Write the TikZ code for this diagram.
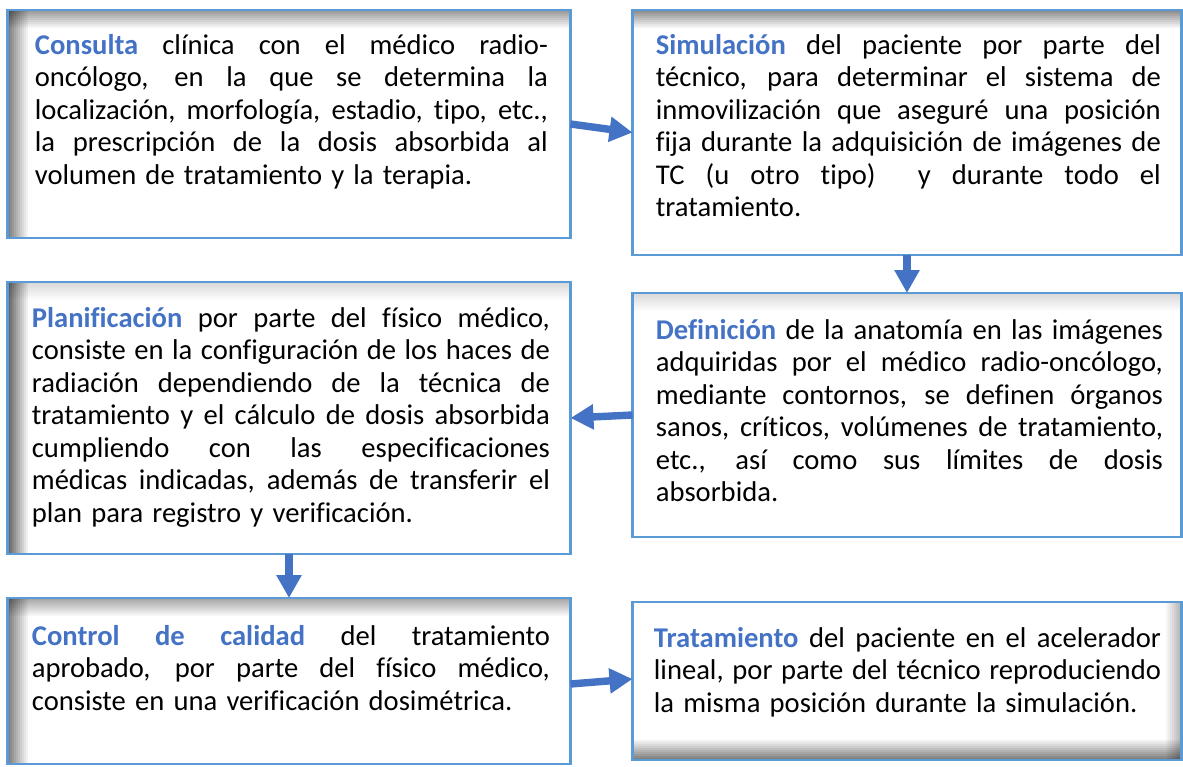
\documentclass[tikz,border=0pt]{standalone}
\usepackage{fontspec}
\setmainfont{Carlito}[Ligatures=NoCommon]
\usetikzlibrary{positioning, arrows.meta}
\definecolor{bordeazul}{HTML}{5B9BD5}
\definecolor{flechaazul}{HTML}{4472C4}
\definecolor{claveazul}{HTML}{4472C4}
\hyphenpenalty=10000
\newcommand{\clave}[1]{\textcolor{claveazul}{\textbf{#1}}}
\newcommand{\espacios}{\spaceskip=4.6pt plus 8pt minus 1.6pt\relax}
% sombras interiores de las cajas (franjas de 1pt)
\newcommand{\sombraarr}[1]{\foreach \i in {0,...,8}{\pgfmathsetmacro\tono{#1*(1-\i/9)/100}
  \fill[black, fill opacity=\tono] ([yshift=-\i pt]path picture bounding box.north west) rectangle ([yshift={-(\i+1)*1pt}]path picture bounding box.north east);}}
\newcommand{\sombraizq}[1]{\foreach \i in {0,...,9}{\pgfmathsetmacro\tono{#1*(1-\i/10)/100}
  \fill[black, fill opacity=\tono] ([xshift=\i pt]path picture bounding box.north west) rectangle ([xshift={(\i+1)*1pt}]path picture bounding box.south west);}}
\newcommand{\sombraab}[1]{\foreach \i in {0,...,9}{\pgfmathsetmacro\tono{#1*(1-\i/10)/100}
  \fill[black, fill opacity=\tono] ([yshift=\i pt]path picture bounding box.south west) rectangle ([yshift={(\i+1)*1pt}]path picture bounding box.south east);}}
\newcommand{\sombrader}[1]{\foreach \i in {0,...,7}{\pgfmathsetmacro\tono{#1*(1-\i/8)/100}
  \fill[black, fill opacity=\tono] ([xshift=-\i pt]path picture bounding box.north east) rectangle ([xshift={-(\i+1)*1pt}]path picture bounding box.south east);}}

\begin{document}
\begin{tikzpicture}[x=0.5pt, y=-0.5pt, node distance=31pt,
  paso/.style={draw=bordeazul, line width=1.25pt, outer sep=0pt, inner sep=0pt},
  texto/.style={text width=#1, align=justify, inner sep=0pt, font=\fontsize{14.3}{16.25}\selectfont\espacios},
  flecha/.style={draw=flechaazul, line width=3.7pt, -{Triangle[length=11.5pt, width=12pt]}},
  sombra/.style={path picture={#1}}]
  \useasboundingbox (0,0) rectangle (1183,766);

  \node[paso, minimum width=281.5pt, minimum height=114pt, sombra={\sombraarr{40}\sombraizq{50}}] (consulta) at (289,124) {};
  \node[paso, minimum width=274.5pt, minimum height=122.5pt, sombra={\sombraarr{45}}, right=31pt of consulta.north east, anchor=north west] (sim) {};
  \node[paso, minimum width=274.5pt, minimum height=122pt, sombra={\sombraarr{15}}, below=19pt of sim.south west, anchor=north west] (def) {};
  \node[paso, minimum width=281.5pt, minimum height=136pt, sombra={\sombraarr{15}\sombraizq{60}}, left=31pt of def, yshift=-1.5pt] (plan) {};
  \node[paso, minimum width=281.5pt, minimum height=83pt, sombra={\sombraarr{35}\sombraizq{50}}, below=22pt of plan.south west, anchor=north west] (ctrl) {};
  \node[paso, minimum width=274.5pt, minimum height=79pt, sombra={\sombrader{30}\sombraab{50}}, right=31pt of ctrl] (trat) {};

  \node[texto=256.5pt, below right=12pt and 13.5pt of consulta.north west] (tconsulta) {\clave{Consulta} clínica con el médico radio-\linebreak oncólogo, en la que se determina la\linebreak localización, morfología, estadio, tipo, etc.,\linebreak la prescripción de la dosis absorbida al\linebreak volumen de tratamiento y la terapia.};
  \node[texto=252.5pt, below right=12pt and 11.5pt of sim.north west] (tsim) {\clave{Simulación} del paciente por parte del\linebreak técnico, para determinar el sistema de\linebreak inmovilización que aseguré una posición\linebreak fija durante la adquisición de imágenes de\linebreak TC (u otro tipo) \ y durante todo el\linebreak tratamiento.};
  \node[texto=253.5pt, below right=13pt and 11.5pt of def.north west] (tdef) {\clave{Definición} de la anatomía en las imágenes\linebreak adquiridas por el médico radio-oncólogo,\linebreak mediante contornos, se definen órganos\linebreak sanos, críticos, volúmenes de tratamiento,\linebreak etc., así como sus límites de dosis\linebreak absorbida.};
  \node[texto=259pt, below right=12.5pt and 12pt of plan.north west] (tplan) {\clave{Planificación} por parte del físico médico,\linebreak consiste en la configuración de los haces de\linebreak radiación dependiendo de la técnica de\linebreak tratamiento y el cálculo de dosis absorbida\linebreak cumpliendo con las especificaciones\linebreak médicas indicadas, además de transferir el\linebreak plan para registro y verificación.};
  \node[texto=259pt, below right=13.5pt and 12pt of ctrl.north west] (tctrl) {\clave{Control de calidad} del tratamiento\linebreak aprobado, por parte del físico médico,\linebreak consiste en una verificación dosimétrica.};
  \node[texto=253.5pt, below right=12.5pt and 10.5pt of trat.north west] (ttrat) {\clave{Tratamiento} del paciente en el acelerador\linebreak lineal, por parte del técnico reproduciendo\linebreak la misma posición durante la simulación.};

  \draw[flecha] (consulta.east) -- (sim.west);
  \draw[flecha] (sim.south) -- (def.north);
  \draw[flecha] (def.west) -- (plan.east);
  \draw[flecha] (plan.south) -- (ctrl.north);
  \draw[flecha] ([yshift=-1.5pt]ctrl.east) -- ([yshift=1pt]trat.west);
\end{tikzpicture}
\end{document}
